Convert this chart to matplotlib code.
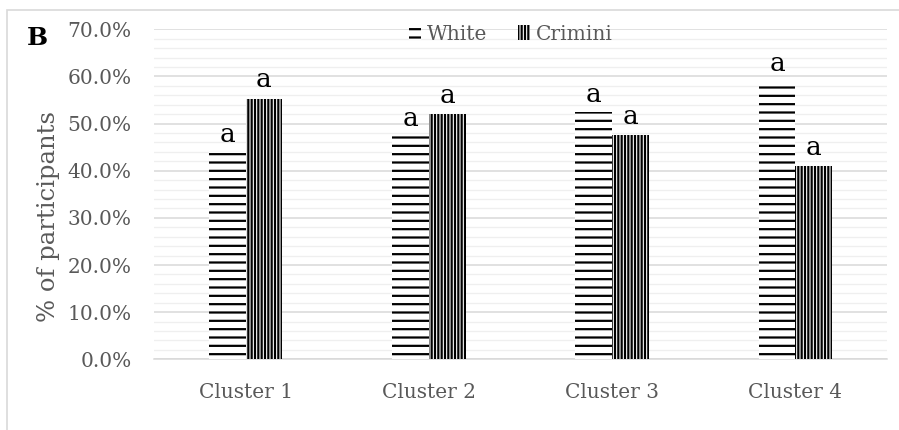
import matplotlib
matplotlib.use("Agg")
import matplotlib.pyplot as plt
import numpy as np
from matplotlib.patches import Rectangle
from matplotlib.ticker import MultipleLocator, FuncFormatter

categories = ["Cluster 1", "Cluster 2", "Cluster 3", "Cluster 4"]
white = [44.0, 47.4, 52.5, 59.1]
crimini = [55.3, 52.0, 47.5, 40.9]
white_letters = ["a", "a", "a", "a"]
crimini_letters = ["a", "a", "a", "a"]
series_names = ["White", "Crimini"]

plt.rcParams['font.family'] = ['DejaVu Serif']
plt.rcParams['hatch.linewidth'] = 1.6

fig = plt.figure(figsize=(8.99, 4.30), dpi=100)
# outer border
fig.patches.append(Rectangle((7/899, -0.1), 1.2, 1 - 9.5/430 + 0.1, transform=fig.transFigure,
                             fill=False, edgecolor='#d9d9d9', linewidth=1.2, zorder=0))

ax = fig.add_axes([154/899, 1 - 359.3/430, 733/899, 330/430])
x = np.arange(len(categories))
w = 0.2
gray = '#595959'

ax.bar(x - w/2, white, w, facecolor='white', edgecolor='black', linewidth=0, hatch='--', zorder=3)
ax.bar(x + w/2, crimini, w, facecolor='white', edgecolor='black', linewidth=0, hatch='|||||', zorder=3)

for xi, v, t in zip(x - w/2, white, white_letters):
    ax.annotate(t, (xi, v), xytext=(0, 7), textcoords='offset points', ha='center', va='baseline',
                fontsize=19, color='black')
for xi, v, t in zip(x + w/2, crimini, crimini_letters):
    ax.annotate(t, (xi, v), xytext=(0, 8), textcoords='offset points', ha='center', va='baseline',
                fontsize=19, color='black')

ax.set_xlim(-0.5, len(categories) - 0.5)
ax.set_ylim(0, 70)
ax.yaxis.set_major_locator(MultipleLocator(10))
ax.yaxis.set_minor_locator(MultipleLocator(2))
ax.yaxis.set_major_formatter(FuncFormatter(lambda v, p: f"{v:.1f}%"))
ax.grid(True, which='major', axis='y', color='#d9d9d9', linewidth=1.1, zorder=0)
ax.grid(True, which='minor', axis='y', color='#efefef', linewidth=0.9, zorder=0)
ax.set_axisbelow(True)
ax.set_xticks(x)
ax.set_xticklabels(categories)
ax.tick_params(axis='both', which='both', length=0, labelsize=14.5, labelcolor=gray)
ax.tick_params(axis='y', pad=16)
ax.tick_params(axis='x', pad=17)
for s in ['top', 'right', 'left']:
    ax.spines[s].set_visible(False)
ax.spines['bottom'].set_color('#d9d9d9')
ax.spines['bottom'].set_linewidth(1.1)

ax.set_ylabel("% of participants", fontsize=17.5, color=gray)
ax.yaxis.set_label_coords(-0.128, (359.3 - 216) / 330)

handles = [Rectangle((0, 0), 1, 1, facecolor='white', edgecolor='black', linewidth=0, hatch='--'),
           Rectangle((0, 0), 1, 1, facecolor='white', edgecolor='black', linewidth=0, hatch='|||||')]
leg = ax.legend(handles, series_names, loc='center', bbox_to_anchor=((511-154)/733, (359.3-34)/330),
                ncol=2, frameon=False, fontsize=14.5, labelcolor=gray, handlelength=0.6,
                handleheight=0.75, handletextpad=0.3, columnspacing=1.5)

fig.text(27/899, 1 - 38/430, "B", fontsize=18, fontweight='bold', color='black', va='center', ha='left')

fig.savefig("out.png", dpi=100)
